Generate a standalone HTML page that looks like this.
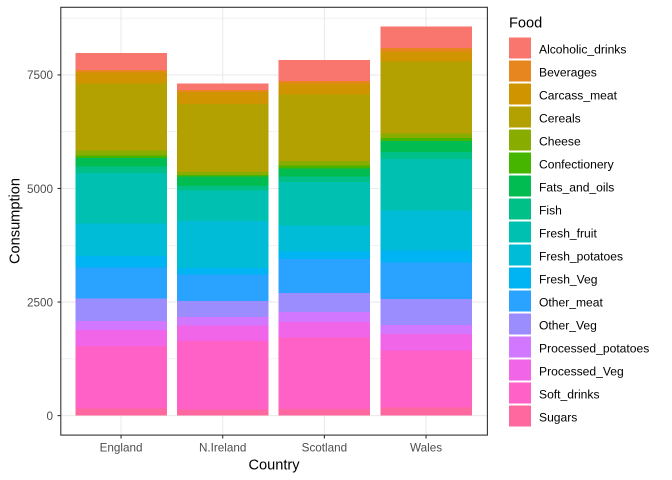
<!DOCTYPE html>
<html><head><meta charset="utf-8"><style>
html,body{margin:0;padding:0;background:#fff;}
svg{display:block;font-family:"Liberation Sans",Arial,sans-serif;}
</style></head><body>
<svg width="672" height="480" viewBox="0 0 672 480" xmlns="http://www.w3.org/2000/svg">
<rect width="672" height="480" fill="#fff"/>
<g stroke="#EBEBEB" fill="none">
<g stroke-width="0.55">
<line x1="61" x2="487" y1="358.8" y2="358.8"/>
<line x1="61" x2="487" y1="245.3" y2="245.3"/>
<line x1="61" x2="487" y1="131.7" y2="131.7"/>
<line x1="61" x2="487" y1="18.2" y2="18.2"/>
</g>
<g stroke-width="1.1">
<line x1="61" x2="487" y1="415.6" y2="415.6"/>
<line x1="61" x2="487" y1="302.05" y2="302.05"/>
<line x1="61" x2="487" y1="188.5" y2="188.5"/>
<line x1="61" x2="487" y1="74.95" y2="74.95"/>
<line x1="121.05" x2="121.05" y1="7" y2="435"/>
<line x1="222.7" x2="222.7" y1="7" y2="435"/>
<line x1="324.4" x2="324.4" y1="7" y2="435"/>
<line x1="426.05" x2="426.05" y1="7" y2="435"/>
</g>
</g>
<g transform="translate(0,415.6) scale(1,-0.04542)" shape-rendering="crispEdges">
<g transform="translate(75.3,0)">
<rect x="0" width="91.5" y="0" height="156" fill="#FF689E"/>
<rect x="0" width="91.5" y="156" height="1374" fill="#FF61C7"/>
<rect x="0" width="91.5" y="1530" height="360" fill="#F166E8"/>
<rect x="0" width="91.5" y="1890" height="198" fill="#D277FF"/>
<rect x="0" width="91.5" y="2088" height="488" fill="#9C8DFF"/>
<rect x="0" width="91.5" y="2576" height="685" fill="#29A3FF"/>
<rect x="0" width="91.5" y="3261" height="253" fill="#00B3F2"/>
<rect x="0" width="91.5" y="3514" height="720" fill="#00BCD6"/>
<rect x="0" width="91.5" y="4234" height="1102" fill="#00C0B2"/>
<rect x="0" width="91.5" y="5336" height="147" fill="#00C087"/>
<rect x="0" width="91.5" y="5483" height="193" fill="#00BC51"/>
<rect x="0" width="91.5" y="5676" height="54" fill="#45B500"/>
<rect x="0" width="91.5" y="5730" height="105" fill="#89AC00"/>
<rect x="0" width="91.5" y="5835" height="1472" fill="#B2A100"/>
<rect x="0" width="91.5" y="7307" height="245" fill="#D09400"/>
<rect x="0" width="91.5" y="7552" height="57" fill="#E7851E"/>
<rect x="0" width="91.5" y="7609" height="375" fill="#F8766D"/>
</g>
<g transform="translate(176.97,0)">
<rect x="0" width="91.5" y="0" height="139" fill="#FF689E"/>
<rect x="0" width="91.5" y="139" height="1506" fill="#FF61C7"/>
<rect x="0" width="91.5" y="1645" height="334" fill="#F166E8"/>
<rect x="0" width="91.5" y="1979" height="187" fill="#D277FF"/>
<rect x="0" width="91.5" y="2166" height="355" fill="#9C8DFF"/>
<rect x="0" width="91.5" y="2521" height="586" fill="#29A3FF"/>
<rect x="0" width="91.5" y="3107" height="143" fill="#00B3F2"/>
<rect x="0" width="91.5" y="3250" height="1033" fill="#00BCD6"/>
<rect x="0" width="91.5" y="4283" height="674" fill="#00C0B2"/>
<rect x="0" width="91.5" y="4957" height="93" fill="#00C087"/>
<rect x="0" width="91.5" y="5050" height="209" fill="#00BC51"/>
<rect x="0" width="91.5" y="5259" height="41" fill="#45B500"/>
<rect x="0" width="91.5" y="5300" height="66" fill="#89AC00"/>
<rect x="0" width="91.5" y="5366" height="1494" fill="#B2A100"/>
<rect x="0" width="91.5" y="6860" height="267" fill="#D09400"/>
<rect x="0" width="91.5" y="7127" height="47" fill="#E7851E"/>
<rect x="0" width="91.5" y="7174" height="135" fill="#F8766D"/>
</g>
<g transform="translate(278.64,0)">
<rect x="0" width="91.5" y="0" height="147" fill="#FF689E"/>
<rect x="0" width="91.5" y="147" height="1572" fill="#FF61C7"/>
<rect x="0" width="91.5" y="1719" height="337" fill="#F166E8"/>
<rect x="0" width="91.5" y="2056" height="220" fill="#D277FF"/>
<rect x="0" width="91.5" y="2276" height="418" fill="#9C8DFF"/>
<rect x="0" width="91.5" y="2694" height="750" fill="#29A3FF"/>
<rect x="0" width="91.5" y="3444" height="171" fill="#00B3F2"/>
<rect x="0" width="91.5" y="3615" height="566" fill="#00BCD6"/>
<rect x="0" width="91.5" y="4181" height="957" fill="#00C0B2"/>
<rect x="0" width="91.5" y="5138" height="122" fill="#00C087"/>
<rect x="0" width="91.5" y="5260" height="184" fill="#00BC51"/>
<rect x="0" width="91.5" y="5444" height="62" fill="#45B500"/>
<rect x="0" width="91.5" y="5506" height="103" fill="#89AC00"/>
<rect x="0" width="91.5" y="5609" height="1462" fill="#B2A100"/>
<rect x="0" width="91.5" y="7071" height="242" fill="#D09400"/>
<rect x="0" width="91.5" y="7313" height="53" fill="#E7851E"/>
<rect x="0" width="91.5" y="7366" height="458" fill="#F8766D"/>
</g>
<g transform="translate(380.31,0)">
<rect x="0" width="91.5" y="0" height="175" fill="#FF689E"/>
<rect x="0" width="91.5" y="175" height="1256" fill="#FF61C7"/>
<rect x="0" width="91.5" y="1431" height="365" fill="#F166E8"/>
<rect x="0" width="91.5" y="1796" height="203" fill="#D277FF"/>
<rect x="0" width="91.5" y="1999" height="570" fill="#9C8DFF"/>
<rect x="0" width="91.5" y="2569" height="803" fill="#29A3FF"/>
<rect x="0" width="91.5" y="3372" height="265" fill="#00B3F2"/>
<rect x="0" width="91.5" y="3637" height="874" fill="#00BCD6"/>
<rect x="0" width="91.5" y="4511" height="1137" fill="#00C0B2"/>
<rect x="0" width="91.5" y="5648" height="160" fill="#00C087"/>
<rect x="0" width="91.5" y="5808" height="235" fill="#00BC51"/>
<rect x="0" width="91.5" y="6043" height="64" fill="#45B500"/>
<rect x="0" width="91.5" y="6107" height="103" fill="#89AC00"/>
<rect x="0" width="91.5" y="6210" height="1582" fill="#B2A100"/>
<rect x="0" width="91.5" y="7792" height="227" fill="#D09400"/>
<rect x="0" width="91.5" y="8019" height="73" fill="#E7851E"/>
<rect x="0" width="91.5" y="8092" height="475" fill="#F8766D"/>
</g>
</g>
<rect x="60.8" y="7.3" width="426.6" height="427.8" fill="none" stroke="#333333" stroke-width="1.1"/>
<g stroke="#333333" stroke-width="1.1">
<line x1="57.5" x2="60.8" y1="415.6" y2="415.6"/>
<line x1="57.5" x2="60.8" y1="302.05" y2="302.05"/>
<line x1="57.5" x2="60.8" y1="188.5" y2="188.5"/>
<line x1="57.5" x2="60.8" y1="74.95" y2="74.95"/>
<line x1="121.05" x2="121.05" y1="435" y2="438.5"/>
<line x1="222.7" x2="222.7" y1="435" y2="438.5"/>
<line x1="324.4" x2="324.4" y1="435" y2="438.5"/>
<line x1="426.05" x2="426.05" y1="435" y2="438.5"/>
</g>
<g fill="#4D4D4D" font-size="11.7px">
<text x="53" y="420" text-anchor="end">0</text>
<text x="53" y="306.3" text-anchor="end">2500</text>
<text x="53" y="192.8" text-anchor="end">5000</text>
<text x="53" y="79.2" text-anchor="end">7500</text>
<text x="121.05" y="451.5" text-anchor="middle">England</text>
<text x="222.7" y="451.5" text-anchor="middle">N.Ireland</text>
<text x="324.4" y="451.5" text-anchor="middle">Scotland</text>
<text x="426.05" y="451.5" text-anchor="middle">Wales</text>
</g>
<g fill="#000" font-size="14.6px">
<text x="274" y="469.5" text-anchor="middle">Country</text>
<text transform="translate(19.5,221) rotate(-90)" text-anchor="middle">Consumption</text>
<text x="509" y="27.7">Food</text>
</g>
<g shape-rendering="crispEdges">
<rect x="509" y="37.3" width="22" height="21.3" fill="#F8766D"/>
<rect x="509" y="60.3" width="22" height="21.3" fill="#E7851E"/>
<rect x="509" y="83.3" width="22" height="21.3" fill="#D09400"/>
<rect x="509" y="106.3" width="22" height="21.3" fill="#B2A100"/>
<rect x="509" y="129.3" width="22" height="21.3" fill="#89AC00"/>
<rect x="509" y="152.3" width="22" height="21.3" fill="#45B500"/>
<rect x="509" y="175.3" width="22" height="21.3" fill="#00BC51"/>
<rect x="509" y="198.3" width="22" height="21.3" fill="#00C087"/>
<rect x="509" y="221.3" width="22" height="21.3" fill="#00C0B2"/>
<rect x="509" y="244.3" width="22" height="21.3" fill="#00BCD6"/>
<rect x="509" y="267.3" width="22" height="21.3" fill="#00B3F2"/>
<rect x="509" y="290.3" width="22" height="21.3" fill="#29A3FF"/>
<rect x="509" y="313.3" width="22" height="21.3" fill="#9C8DFF"/>
<rect x="509" y="336.3" width="22" height="21.3" fill="#D277FF"/>
<rect x="509" y="359.3" width="22" height="21.3" fill="#F166E8"/>
<rect x="509" y="382.3" width="22" height="21.3" fill="#FF61C7"/>
<rect x="509" y="405.3" width="22" height="21.3" fill="#FF689E"/>
</g>
<g fill="#000" font-size="12.1px">
<text x="539" y="53.3">Alcoholic_drinks</text>
<text x="539" y="76.3">Beverages</text>
<text x="539" y="99.3">Carcass_meat</text>
<text x="539" y="122.3">Cereals</text>
<text x="539" y="145.3">Cheese</text>
<text x="539" y="168.3">Confectionery</text>
<text x="539" y="191.3">Fats_and_oils</text>
<text x="539" y="214.3">Fish</text>
<text x="539" y="237.3">Fresh_fruit</text>
<text x="539" y="260.3">Fresh_potatoes</text>
<text x="539" y="283.3">Fresh_Veg</text>
<text x="539" y="306.3">Other_meat</text>
<text x="539" y="329.3">Other_Veg</text>
<text x="539" y="352.3">Processed_potatoes</text>
<text x="539" y="375.3">Processed_Veg</text>
<text x="539" y="398.3">Soft_drinks</text>
<text x="539" y="421.3">Sugars</text>
</g>
</svg>
</body></html>
